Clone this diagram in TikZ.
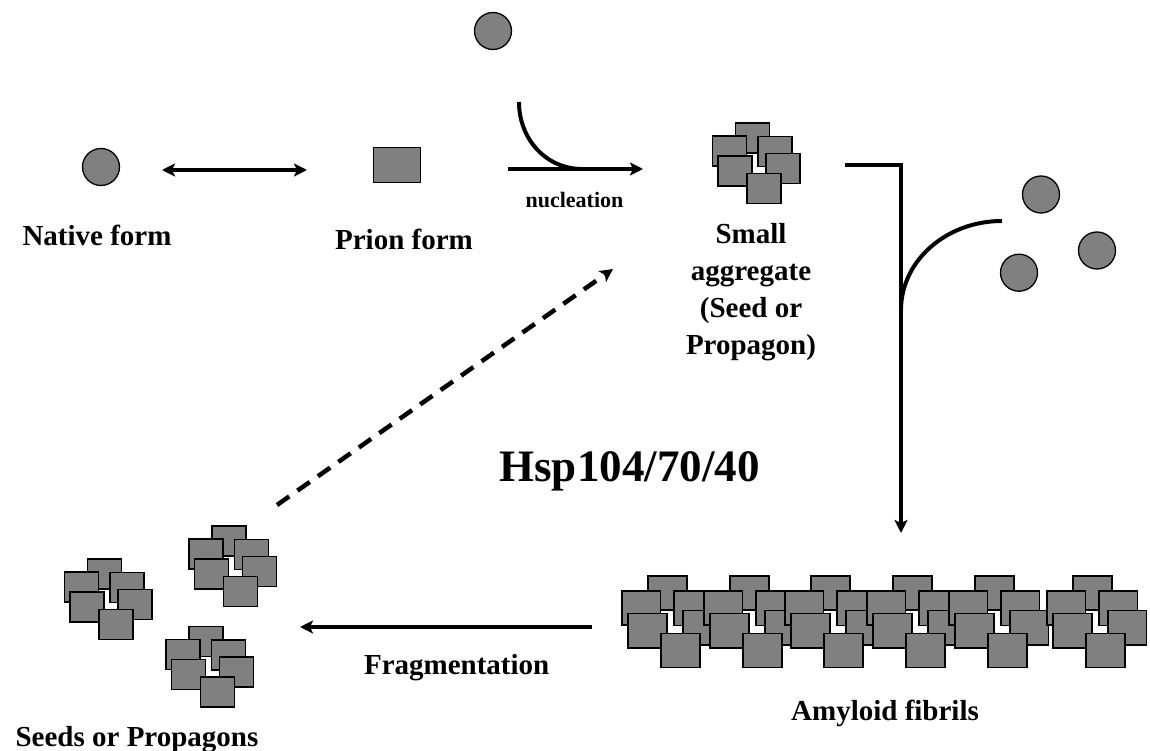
\documentclass[tikz,border=0pt]{standalone}
\usepackage{fontspec}
\setmainfont{Liberation Serif}
\usepackage{tikz}
\usetikzlibrary{calc, positioning, arrows.meta}
\definecolor{blobgray}{HTML}{808080}
\tikzstyle{mono}=[draw, shape=circle, fill=blobgray, line width=1.3pt, minimum size=37pt, inner sep=0pt]
\tikzstyle{sq}=[draw=black, fill=blobgray, line width=1.6pt]
\tikzstyle{lbl}=[font=\bfseries\fontsize{29}{37}\selectfont, anchor=base, align=center, inner sep=0pt]
\tikzstyle{conn}=[line width=4pt]
\tikzset{>={Stealth[length=13pt, width=13pt, inset=3pt]}}
\tikzset{pics/clump/.style={code={
  \foreach \dx/\dy in {-3.5/-25, -26.5/-12, 19/-11.5, -21/8, 27/5.5, 8/25.5}
    \draw[sq] (\dx-17, \dy-15) rectangle ++(34, 30);
}}}

\begin{document}
\begin{tikzpicture}[x=1pt, y=-1pt]
\useasboundingbox (0,0) rectangle (1150,751);
% monomers
\node[mono] (native) at (101,167) {};
\node[mono] (M0) at (493,31) {};
\node[mono] (M1) at (1041,194.5) {};
\node[mono] (M2) at (1097,250.5) {};
\node[mono] (M3) at (1019,272.7) {};
\node[sq, minimum width=47pt, minimum height=35pt, inner sep=0pt] (prion) at (397,165) {};
% aggregates
\pic at (756,163) {clump};
\pic at (108,599) {clump};
\pic at (232.5,566) {clump};
\pic at (209.5,666.5) {clump};
\foreach \fx in {671.5, 753.5, 834.5, 916.5, 998.5, 1096.5}
  \pic[scale=1.14] at (\fx,621.5) {clump};
% labels
\node[lbl] (L-native) at (97,246) {Native form};
\node[lbl] (L-prion) at (404,250) {Prion form};
\node[lbl, font=\bfseries\fontsize{22}{26}\selectfont] (L-nuc) at (574.5,208) {nucleation};
\node[lbl, anchor=north] (L-agg) at (751,223) {Small\\aggregate\\(Seed or\\Propagon)};
\node[lbl, font=\bfseries\fontsize{45}{50}\selectfont] (L-hsp) at (629.5,481) {Hsp104/70/40};
\node[lbl] (L-frag) at (456.7,674) {Fragmentation};
\node[lbl] (L-seeds) at (137,746) {Seeds or Propagons};
\node[lbl] (L-fib) at (885,720) {Amyloid fibrils};
% connector ends
\coordinate (eq-a) at (162,170);
\coordinate (eq-b) at (307,170);
\coordinate (nuc-a) at (508,169);
\coordinate (nuc-b) at (643,169);
\coordinate (nuc-t) at (519,102);
\coordinate (nuc-j) at (582,169);
\coordinate (agg-e) at (845,165);
\coordinate (fib-n) at (901,533);
\coordinate (feed-r) at (1002,221);
\coordinate (feed-j) at (901,310);
\coordinate (frag-a) at (592,627);
\coordinate (frag-b) at (300,627);
\coordinate (back-a) at (277,505);
\coordinate (back-b) at (613,269);
% connectors
\draw[conn, <->] (eq-a) -- (eq-b);
\draw[conn, ->] (nuc-a) -- (nuc-b);
\draw[conn] (nuc-t) .. controls (519,139) and (546,169) .. (nuc-j);
\draw[conn, ->] (agg-e) -| (fib-n);
\draw[conn] (feed-r) .. controls (946,221) and (901,261) .. (feed-j);
\draw[conn, ->] (frag-a) -- (frag-b);
\draw[conn, ->, line width=4.5pt, dash pattern=on 15pt off 10pt] (back-a) -- (back-b);
\end{tikzpicture}
\end{document}
